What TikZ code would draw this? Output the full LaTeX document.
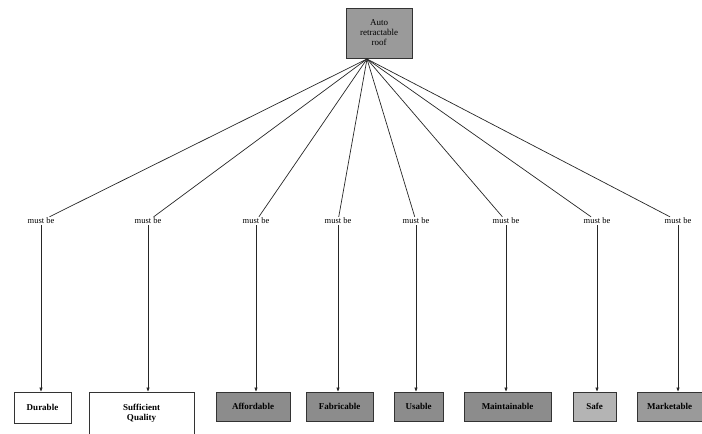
\documentclass[tikz,border=0pt]{standalone}
\usepackage{fontspec}
\setmainfont{Liberation Serif}
\usetikzlibrary{arrows.meta}
\definecolor{gA}{HTML}{9A9A9A}
\definecolor{gB}{HTML}{8C8C8C}
\definecolor{gC}{HTML}{B4B4B4}
\begin{document}
\begin{tikzpicture}[x=1pt,y=-1pt,
  box/.style={draw=black!80,line width=0.9pt,inner sep=0pt,align=center,font=\fontsize{9}{10}\selectfont\bfseries},
  lab/.style={inner sep=1pt,font=\fontsize{8.5}{9}\selectfont},
  conn/.style={line width=0.7pt,draw=black!85},
  arr/.style={conn,-{Triangle[length=4pt,width=3pt]}}]
\useasboundingbox (0,0) rectangle (702,434);
\node[box,fill=gA,minimum width=66pt,minimum height=50pt,font=\fontsize{9}{10}\selectfont] (top) at (379,33) {Auto\\retractable\\roof};
\coordinate (hub) at (367,59);
\foreach \n/\x in {1/41,2/148,3/256,4/338,5/416,6/506,7/597,8/678}{
  \node[lab] (m\n) at (\x,221) {must be};
  \draw[conn] (hub) -- (m\n);
}
\node[box,fill=white,minimum width=57pt,minimum height=31pt] (b1) at (42.5,407.5) {Durable};
\node[box,fill=white,minimum width=105pt,minimum height=42pt] (b2) at (141.5,413) {Sufficient\\Quality};
\node[box,fill=gB,minimum width=74pt,minimum height=29pt] (b3) at (253,406.5) {Affordable};
\node[box,fill=gB,minimum width=67pt,minimum height=29pt] (b4) at (339.5,406.5) {Fabricable};
\node[box,fill=gB,minimum width=49pt,minimum height=29pt] (b5) at (418.5,406.5) {Usable};
\node[box,fill=gB,minimum width=87pt,minimum height=29pt] (b6) at (507.5,406.5) {Maintainable};
\node[box,fill=gC,minimum width=43pt,minimum height=29pt] (b7) at (594.5,406.5) {Safe};
\node[box,fill=gA,minimum width=65pt,minimum height=29pt] (b8) at (669.5,406.5) {Marketable};
\foreach \n/\x in {1/41,2/148,3/256,4/338,5/416,6/506,7/597,8/678}{
  \draw[arr] (m\n.south -| \x,0) -- (b\n.north -| \x,0);
}
\end{tikzpicture}
\end{document}
